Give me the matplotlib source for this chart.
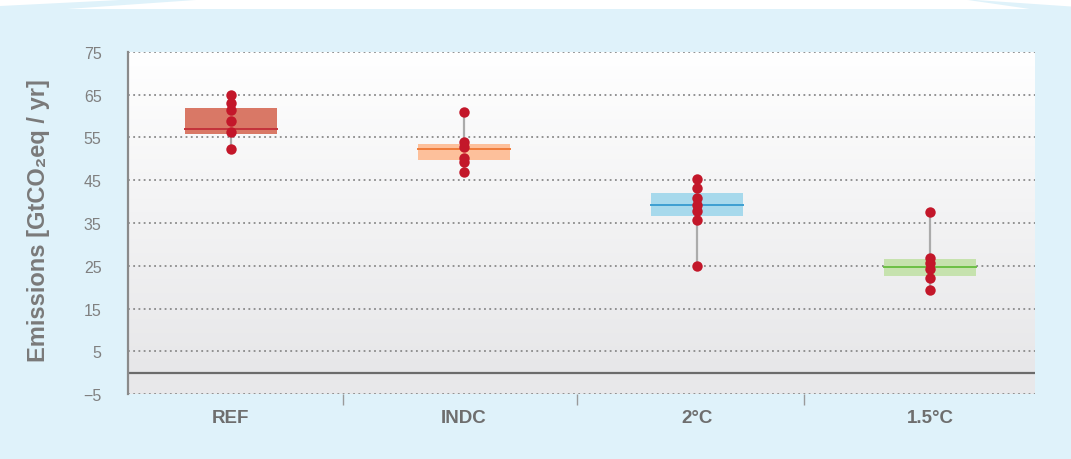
import matplotlib
matplotlib.use("Agg")
import matplotlib.pyplot as plt
import numpy as np
from matplotlib.patches import Polygon, Rectangle

categories = ["REF", "INDC", "2°C", "1.5°C"]
q1 = [55.8, 49.7, 36.7, 22.7]
median = [57.0, 52.3, 39.2, 24.6]
q3 = [61.9, 53.5, 42.0, 26.6]
points = [
    [64.9, 63.1, 61.4, 58.8, 56.4, 52.3],
    [60.9, 53.9, 52.7, 50.1, 49.3, 46.9],
    [45.3, 43.3, 40.8, 39.2, 37.9, 35.7, 25.0],
    [37.5, 26.7, 25.6, 24.2, 22.1, 19.4],
]
yticks = [-5, 5, 15, 25, 35, 45, 55, 65, 75]
ytick_labels = ["\u22125", "5", "15", "25", "35", "45", "55", "65", "75"]
separators = [0.48, 1.485, 2.46]

box_colors = ["#d97866", "#fdc09b", "#a7d9ec", "#c6e2ae"]
median_colors = ["#c4333a", "#f07c3a", "#3d9fd2", "#6cc045"]
point_color = "#c3172a"

W, H = 1071, 460
fig = plt.figure(figsize=(W / 100, H / 100), dpi=100)
fig.patch.set_facecolor("#dff2fa")

def fx(x): return x / W
def fy(y): return 1 - y / H
fig.patches.append(Rectangle((0, fy(10)), 1, 10 / H, transform=fig.transFigure,
                             facecolor="white", edgecolor="none", zorder=0))
fig.patches.append(Polygon([(fx(0), fy(7)), (fx(140), fy(0)), (fx(210), fy(0)),
                            (fx(67), fy(10)), (fx(0), fy(10))], closed=True,
                           transform=fig.transFigure, facecolor="#dff2fa",
                           edgecolor="none", zorder=1))
fig.patches.append(Polygon([(fx(961), fy(0)), (fx(1071), fy(7.5)), (fx(1071), fy(10)),
                            (fx(1030), fy(10))], closed=True,
                           transform=fig.transFigure, facecolor="#dff2fa",
                           edgecolor="none", zorder=1))

left, right, top, bottom = 128, 1035, 53, 395
ax = fig.add_axes([left / W, 1 - bottom / H, (right - left) / W, (bottom - top) / H])
ax.set_xlim(-0.44, 3.45)
ax.set_ylim(-5, 75)

grad = np.linspace(0, 1, 256).reshape(-1, 1)
top_c = np.array([1.0, 1.0, 1.0])
bot_c = np.array([0xe7, 0xe7, 0xe9]) / 255
img = top_c + (bot_c - top_c) * grad
ax.imshow(img.reshape(256, 1, 3), extent=(-0.44, 3.45, 0, 75), aspect="auto",
          origin="upper", zorder=0)
ax.add_patch(Rectangle((-0.44, -5), 3.89, 5, facecolor="#e8e8ea", edgecolor="none", zorder=0))

for t in yticks:
    ax.axhline(t, color="#8a8a8a", lw=1.3, linestyle=(0, (1, 1.9)), zorder=1)
ax.axhline(0, color="#6b6b6b", lw=1.6, zorder=2)

bw = 0.395
for i in range(len(categories)):
    ax.plot([i, i], [min(points[i]), max(points[i])], color="#ababab", lw=1.6, zorder=2)
    ax.add_patch(Rectangle((i - bw / 2, q1[i]), bw, q3[i] - q1[i],
                           facecolor=box_colors[i], edgecolor="none", zorder=3))
    ax.plot([i - bw / 2, i + bw / 2], [median[i], median[i]], color=median_colors[i],
            lw=1.4, zorder=4)
    ax.plot([i] * len(points[i]), points[i], "o", color=point_color, ms=7.5,
            mec="none", zorder=5)

for s in ["top", "right", "bottom"]:
    ax.spines[s].set_visible(False)
ax.spines["left"].set_color("#8a8a8a")
ax.spines["left"].set_linewidth(1.6)

ax.set_yticks(yticks)
ax.set_yticklabels(ytick_labels, color="#808080", fontsize=11.5,
                   family=["Liberation Sans", "DejaVu Sans"])
ax.tick_params(axis="y", length=0, pad=19)

ax.set_xticks(range(len(categories)))
ax.set_xticklabels(categories, color="#6e6e6e", fontsize=13.5, fontweight="bold",
                   family=["Liberation Sans", "DejaVu Sans"])
ax.tick_params(axis="x", which="major", length=0, pad=11)
ax.set_xticks(separators, minor=True)
ax.tick_params(axis="x", which="minor", length=8, width=1, color="#9a9a9a",
               direction="out")

ax.set_ylabel("Emissions [GtCO\u2082eq / yr]", color="#7a7a7a", fontsize=17,
              fontweight="bold", family=["Liberation Sans", "DejaVu Sans"])
ax.yaxis.set_label_coords(-0.086, 0.51)

fig.savefig("out.png", dpi=100, facecolor=fig.get_facecolor())
